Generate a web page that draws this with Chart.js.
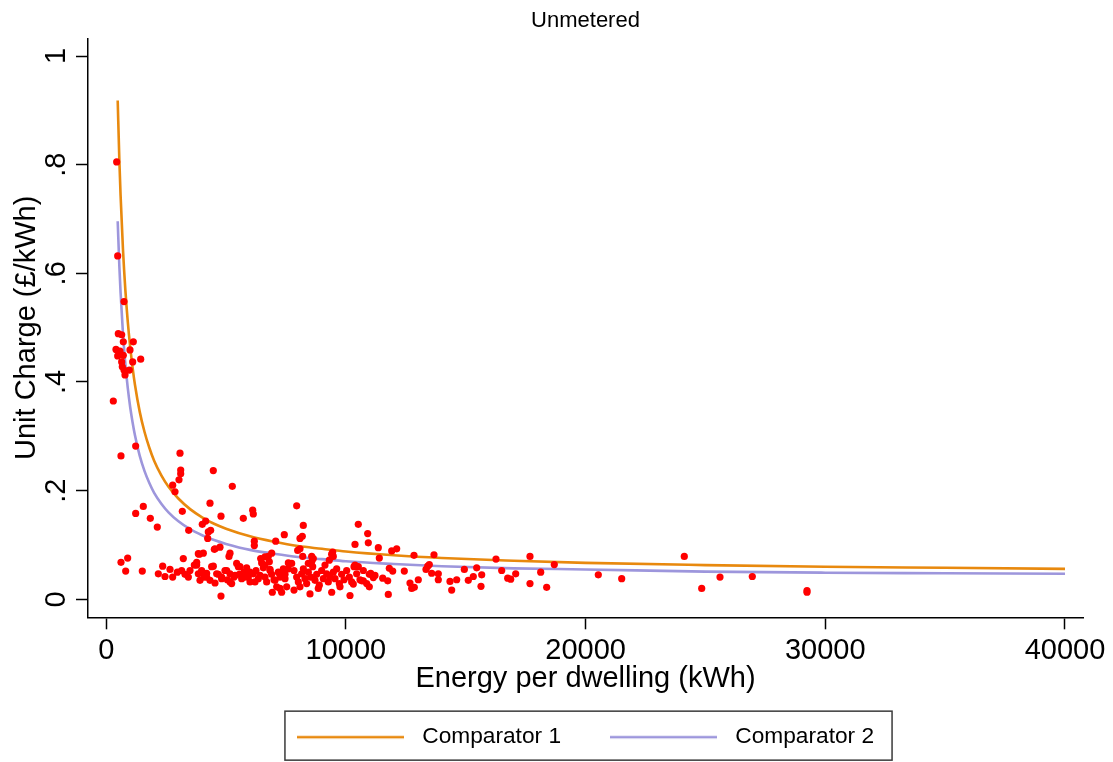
<!DOCTYPE html>
<html>
<head>
<meta charset="utf-8">
<script src="https://cdn.jsdelivr.net/npm/chart.js@4.4.1/dist/chart.umd.min.js"></script>
<style>
html,body{margin:0;padding:0;background:#fff;}
#wrap{width:1113px;height:762px;}
</style>
</head>
<body>
<div id="wrap"><canvas id="c" width="1113" height="762"></canvas></div>
<script>
const chartTitle = 'Unmetered';
const xAxisTitle = 'Energy per dwelling (kWh)';
const yAxisTitle = 'Unit Charge (£/kWh)';
const seriesNames = ['Comparator 1', 'Comparator 2'];
const xTickValues = [0, 10000, 20000, 30000, 40000];
const yTickValues = [0, 0.2, 0.4, 0.6, 0.8, 1];
const yTickLabels = ['0', '.2', '.4', '.6', '.8', '1'];

const curveEnergy = [480, 550, 600, 700, 800, 900, 1000, 1100, 1200, 1400, 1600, 1800, 2000, 2300, 2600, 3000, 3500, 4000, 4500, 5000, 6000, 7000, 8000, 9000, 10000, 12000, 14000, 17000, 20000, 25000, 30000, 35000, 40000];
const comparator1 = [0.918, 0.807, 0.744, 0.644, 0.569, 0.511, 0.465, 0.427, 0.395, 0.345, 0.308, 0.279, 0.255, 0.228, 0.207, 0.186, 0.166, 0.151, 0.139, 0.130, 0.116, 0.106, 0.098, 0.093, 0.088, 0.081, 0.076, 0.071, 0.067, 0.063, 0.060, 0.058, 0.056];
const comparator2 = [0.696, 0.612, 0.565, 0.489, 0.433, 0.389, 0.354, 0.326, 0.302, 0.264, 0.236, 0.214, 0.196, 0.176, 0.160, 0.144, 0.129, 0.118, 0.109, 0.102, 0.091, 0.084, 0.078, 0.074, 0.070, 0.065, 0.061, 0.057, 0.055, 0.051, 0.049, 0.048, 0.047];

const scatterEnergy = [
  438, 480, 743, 505, 646, 714, 1131, 409, 576, 993, 480, 714, 1439, 1105, 646, 672, 965, 743, 785, 297,
  1230, 617, 3079, 3108, 3108, 4468, 3037, 2774, 2870, 5261, 1548, 1230, 1841, 2132, 4330, 3175, 4789, 5720, 6111, 6137,
  4009, 4151, 3442, 4260, 4358, 4234, 6180, 6180, 7430, 7071, 4747, 4512, 5165, 5123, 6904, 617, 896, 813, 1506, 3217,
  3843, 4051, 3676, 3775,
  7947, 8223, 8085, 8181, 7989, 8085, 10517, 10380, 10909, 9450, 9475, 6625, 6763, 6445, 4539, 3884, 8198, 8573, 8640, 9308,
  10380, 10517, 8432, 8573, 4789, 6930, 7251, 7530, 7835, 8502, 8085, 8849, 9408, 10171, 9754, 10659, 10309,
  10935, 11352, 11911, 12119, 11394, 11035, 11214, 11144, 11811, 11953, 10726, 10977, 11536, 11744, 11769, 12437, 12841, 12674, 12745, 12854,
  13020, 13342, 13413, 13480, 13675, 13580, 13855, 13855, 14343, 14413, 14622, 14941, 15106, 15315, 15457, 15666, 15636, 16262, 16500, 16750,
  16875, 17084, 17680, 17680, 18127, 18376, 18694, 20530,
  21506, 24118, 24844, 25607, 26955, 29237, 29237,
  2356, 2175, 2453, 2662, 2773, 2968, 3148, 3287, 3427, 3496, 3844, 3913, 3983, 4080, 4191, 4331, 4470, 4539, 4678, 4817,
  4956, 5054, 5165, 5234, 5332, 5443, 5513, 5554, 5652, 5749, 5860, 5930, 5999, 6138, 6250, 6347, 6486, 6556, 6625, 6695,
  6806, 6834, 6903, 7001, 7112, 7181, 7251, 7320, 7390, 7460, 7599,
  7738, 7835, 7946, 8016, 8155, 8225, 8294, 8363, 8433, 8530, 8614, 8711, 8781, 8892, 8989, 9059, 9128, 9198, 9267, 9337,
  9406, 9476, 9545, 9615, 9726, 9823, 9921, 10032, 10143, 10241, 10338, 10449, 10588, 10728, 10867, 10978,
  3774, 3983, 4191, 4400, 4609, 4817, 5026, 5165, 5373, 5582, 5791, 5999, 6208, 6416, 6625, 6834, 7042, 7251, 7460, 7599
];
const scatterCharge = [
  0.805, 0.632, 0.548, 0.489, 0.487, 0.474, 0.474, 0.460, 0.457, 0.459, 0.448, 0.449, 0.442, 0.437, 0.437, 0.428, 0.422, 0.422, 0.413, 0.365,
  0.282, 0.264, 0.269, 0.238, 0.231, 0.237, 0.220, 0.210, 0.198, 0.208, 0.171, 0.158, 0.149, 0.133, 0.177, 0.162, 0.153, 0.149, 0.164, 0.157,
  0.138, 0.144, 0.127, 0.124, 0.127, 0.112, 0.107, 0.099, 0.119, 0.107, 0.096, 0.092, 0.085, 0.079, 0.085, 0.068, 0.076, 0.052, 0.052, 0.075,
  0.084, 0.085, 0.063, 0.068,
  0.172, 0.136, 0.112, 0.116, 0.090, 0.093, 0.138, 0.101, 0.121, 0.087, 0.079, 0.078, 0.079, 0.075, 0.093, 0.083, 0.079, 0.079, 0.075, 0.072,
  0.063, 0.060, 0.066, 0.069, 0.006, 0.013, 0.020, 0.023, 0.017, 0.010, 0.023, 0.020, 0.013, 0.007, 0.023, 0.034, 0.028,
  0.104, 0.095, 0.089, 0.093, 0.076, 0.048, 0.044, 0.040, 0.057, 0.052, 0.034, 0.023, 0.039, 0.034, 0.009, 0.052, 0.081, 0.030, 0.020, 0.022,
  0.036, 0.055, 0.061, 0.064, 0.082, 0.048, 0.047, 0.036, 0.033, 0.017, 0.036, 0.055, 0.035, 0.042, 0.058, 0.045, 0.024, 0.074, 0.053, 0.039,
  0.037, 0.047, 0.079, 0.029, 0.050, 0.022, 0.064, 0.045,
  0.038, 0.079, 0.020, 0.041, 0.042, 0.013, 0.016,
  0.061, 0.047, 0.042, 0.055, 0.041, 0.050, 0.053, 0.046, 0.041, 0.053, 0.047, 0.035, 0.053, 0.041, 0.048, 0.035, 0.061, 0.030, 0.046, 0.041,
  0.053, 0.036, 0.047, 0.029, 0.041, 0.066, 0.060, 0.046, 0.038, 0.050, 0.058, 0.041, 0.032, 0.047, 0.053, 0.038, 0.067, 0.058, 0.041, 0.032,
  0.069, 0.055, 0.046, 0.036, 0.023, 0.050, 0.041, 0.013, 0.056, 0.046, 0.067,
  0.066, 0.053, 0.041, 0.032, 0.047, 0.056, 0.038, 0.029, 0.050, 0.041, 0.060, 0.035, 0.046, 0.026, 0.053, 0.038, 0.063, 0.047, 0.032, 0.041,
  0.083, 0.050, 0.038, 0.056, 0.029, 0.046, 0.036, 0.053, 0.041, 0.032, 0.060, 0.047, 0.036, 0.053, 0.029, 0.046,
  0.063, 0.050, 0.041, 0.060, 0.047, 0.038, 0.053, 0.032, 0.044, 0.060, 0.041, 0.050, 0.032, 0.044, 0.063, 0.053, 0.035, 0.047, 0.038, 0.056
];

const FONT = "'Liberation Sans', Arial, Helvetica, sans-serif";
const colorC1 = '#E8890E';
const colorC2 = '#9D96DC';

function lineSwatch(color) {
  const c = document.createElement('canvas');
  c.width = 114; c.height = 8;
  const g = c.getContext('2d');
  g.strokeStyle = color; g.lineWidth = 2.5;
  g.beginPath(); g.moveTo(0, 4); g.lineTo(107, 4); g.stroke();
  return c;
}
const swatches = { 1: lineSwatch(colorC1), 2: lineSwatch(colorC2) };

const legendFrame = {
  id: 'legendFrame',
  afterDraw(chart) {
    const lg = chart.legend;
    if (!lg || !lg.legendHitBoxes || !lg.legendHitBoxes.length) return;
    const hb = lg.legendHitBoxes;
    const left = hb[0].left - 12;
    const last = hb[hb.length - 1];
    const right = last.left + last.width + 18;
    const cy = hb[0].top + hb[0].height / 2;
    const ctx = chart.ctx;
    ctx.save();
    ctx.strokeStyle = '#3a3a3a';
    ctx.lineWidth = 1.5;
    ctx.strokeRect(left, cy - 26, right - left, 49);
    ctx.restore();
  }
};

const tickGrid = { display: true, drawOnChartArea: false, drawTicks: true, tickLength: 12, tickWidth: 1.5, tickColor: '#000' };
const axisBorder = { display: true, color: '#000', width: 1.5 };

new Chart(document.getElementById('c'), {
  type: 'scatter',
  data: {
    datasets: [
      {
        label: 'Observed',
        data: scatterEnergy.map((x, i) => ({ x: x, y: scatterCharge[i] })),
        backgroundColor: '#FF0000',
        borderWidth: 0,
        pointRadius: 3.6,
        showLine: false,
        order: 0
      },
      {
        label: seriesNames[0],
        data: curveEnergy.map((x, i) => ({ x: x, y: comparator1[i] })),
        borderColor: colorC1,
        backgroundColor: colorC1,
        borderWidth: 2.6,
        pointRadius: 0,
        showLine: true,
        fill: false,
        cubicInterpolationMode: 'monotone',
        order: 1
      },
      {
        label: seriesNames[1],
        data: curveEnergy.map((x, i) => ({ x: x, y: comparator2[i] })),
        borderColor: colorC2,
        backgroundColor: colorC2,
        borderWidth: 2.6,
        pointRadius: 0,
        showLine: true,
        fill: false,
        cubicInterpolationMode: 'monotone',
        order: 2
      }
    ]
  },
  options: {
    responsive: false,
    animation: false,
    devicePixelRatio: 1,
    events: [],
    layout: { padding: { top: 0, right: 30, bottom: 3.5, left: 0 } },
    plugins: {
      tooltip: { enabled: false },
      title: {
        display: true,
        text: chartTitle,
        position: 'top',
        fullSize: false,
        color: '#000',
        font: { family: FONT, size: 22, weight: 'normal' },
        padding: { top: 7.5, bottom: 4.4 }
      },
      legend: {
        display: true,
        position: 'bottom',
        fullSize: false,
        labels: {
          usePointStyle: true,
          pointStyleWidth: 114,
          padding: 49,
          color: '#000',
          font: { family: FONT, size: 22.7 },
          generateLabels(chart) {
            const items = Chart.defaults.plugins.legend.labels.generateLabels(chart);
            items.forEach(it => { if (swatches[it.datasetIndex]) it.pointStyle = swatches[it.datasetIndex]; });
            return items;
          },
          filter: (item) => item.datasetIndex !== 0
        }
      }
    },
    scales: {
      x: {
        type: 'linear',
        min: -759,
        max: 40751,
        afterBuildTicks: (s) => { s.ticks = xTickValues.map(v => ({ value: v })); },
        afterFit: (s) => { s.height = 59.5; },
        grid: tickGrid,
        border: axisBorder,
        ticks: {
          autoSkip: false,
          maxRotation: 0,
          padding: 4.5,
          color: '#000',
          font: { family: FONT, size: 29 },
          callback: (v) => String(v)
        },
        title: {
          display: true,
          text: xAxisTitle,
          color: '#000',
          font: { family: FONT, size: 29 },
          padding: { top: 0, bottom: -20 }
        }
      },
      y: {
        type: 'linear',
        min: -0.0331,
        max: 1.0326,
        afterBuildTicks: (s) => { s.ticks = yTickValues.map(v => ({ value: v })); },
        afterFit: (s) => { s.width = 88; },
        grid: tickGrid,
        border: axisBorder,
        ticks: {
          autoSkip: false,
          minRotation: 90,
          maxRotation: 90,
          crossAlign: 'center',
          padding: 7,
          color: '#000',
          font: { family: FONT, size: 29 },
          callback: (v) => {
            const i = yTickValues.findIndex(t => Math.abs(t - v) < 1e-9);
            return i >= 0 ? yTickLabels[i] : '';
          }
        },
        title: {
          display: true,
          text: yAxisTitle,
          color: '#000',
          font: { family: FONT, size: 29 },
          padding: { top: 9.5, bottom: 0 }
        }
      }
    }
  },
  plugins: [legendFrame]
});
</script>
</body>
</html>
